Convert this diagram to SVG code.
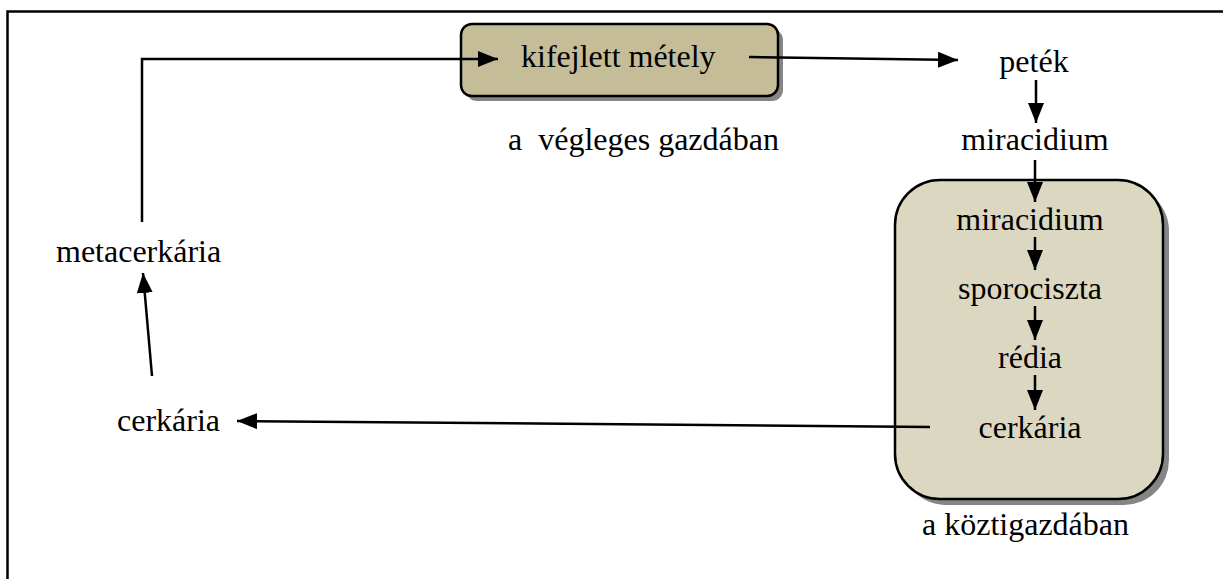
<svg xmlns="http://www.w3.org/2000/svg" width="1223" height="579" viewBox="0 0 1223 579">
  <defs>
    <marker id="arrowBig" viewBox="0 0 10 10" refX="10" refY="5" markerWidth="20" markerHeight="16" markerUnits="userSpaceOnUse" orient="auto" preserveAspectRatio="none">
      <path d="M0,0 L10,5 L0,10 Z" fill="#000"/>
    </marker>
  </defs>
  <style>
    text { font-family: "Liberation Serif", "Times New Roman", serif; font-size: 32px; fill: #000; }
    .mid { text-anchor: middle; }
    .edge { fill: none; stroke: #000; stroke-width: 2.5; }
    .shadow { fill: #858585; }
    .frame { fill: none; stroke: #000; stroke-width: 2.5; }
  </style>

  <rect width="1223" height="579" fill="#fff"/>
  <!-- outer frame, open at the right and bottom page edges -->
  <path class="frame" d="M7.5,590 V11.5 H1235"/>

  <!-- adult fluke in the definitive host -->
  <g id="node-adult">
    <rect class="shadow" x="466" y="29" width="317" height="72" rx="11"/>
    <rect x="461" y="24" width="317" height="72" rx="11" fill="#c5bd98" stroke="#000" stroke-width="2.5"/>
    <text x="521" y="67">kifejlett métely</text>
  </g>
  <g id="label-definitive">
    <text x="508" y="150" xml:space="preserve">a  végleges gazdában</text>
  </g>

  <g id="node-eggs"><text class="mid" x="1034" y="72">peték</text></g>
  <g id="node-miracidium-free"><text class="mid" x="1035" y="150">miracidium</text></g>

  <!-- intermediate host -->
  <g id="node-intermediate">
    <rect class="shadow" x="901" y="186" width="268" height="319" rx="45"/>
    <rect x="895" y="180" width="268" height="319" rx="45" fill="#dcd7c1" stroke="#000" stroke-width="2.5"/>
    <text class="mid" x="1030" y="230">miracidium</text>
    <text class="mid" x="1030" y="299">sporociszta</text>
    <text class="mid" x="1030" y="368">rédia</text>
    <text class="mid" x="1030" y="438">cerkária</text>
  </g>
  <g id="label-intermediate">
    <text x="922" y="535">a köztigazdában</text>
  </g>

  <g id="node-cercaria"><text x="117" y="431">cerkária</text></g>
  <g id="node-metacercaria"><text x="56" y="262">metacerkária</text></g>

  <g id="connectors">
    <path class="edge" d="M142,222 V59 H498" marker-end="url(#arrowBig)"/>
    <path class="edge" d="M749,57 L958,60" marker-end="url(#arrowBig)"/>
    <path class="edge" d="M1036,80 V123" marker-end="url(#arrowBig)"/>
    <path class="edge" d="M1035,160 V202" marker-end="url(#arrowBig)"/>
    <path class="edge" d="M1035,237 V270" marker-end="url(#arrowBig)"/>
    <path class="edge" d="M1035,306 V340" marker-end="url(#arrowBig)"/>
    <path class="edge" d="M1035,375 V410" marker-end="url(#arrowBig)"/>
    <path class="edge" d="M930,427 L237,421" marker-end="url(#arrowBig)"/>
    <path class="edge" d="M152,376 L143,273" marker-end="url(#arrowBig)"/>
  </g>
</svg>
